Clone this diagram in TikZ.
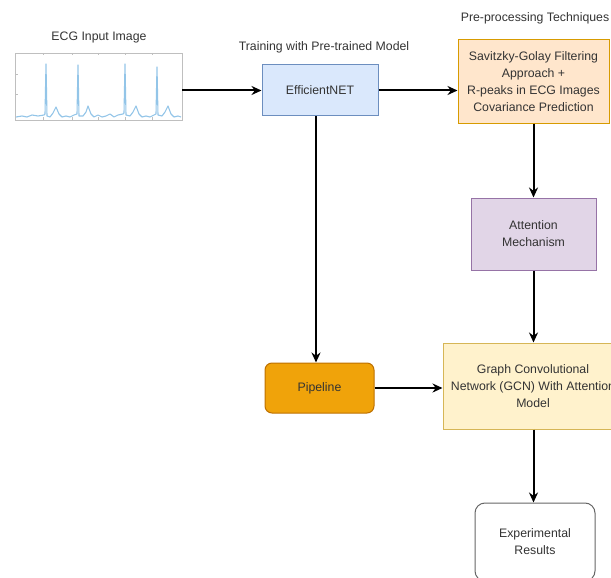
\documentclass[tikz,border=0pt]{standalone}
\usepackage{fontspec}
\setmainfont{Liberation Sans}
\usetikzlibrary{arrows.meta}
\definecolor{txt}{HTML}{333333}
\definecolor{effFill}{HTML}{DAE8FC}
\definecolor{effLine}{HTML}{6C8EBF}
\definecolor{preFill}{HTML}{FFE6CC}
\definecolor{preLine}{HTML}{D79B00}
\definecolor{attFill}{HTML}{E1D5E7}
\definecolor{attLine}{HTML}{9673A6}
\definecolor{gcnFill}{HTML}{FFF2CC}
\definecolor{gcnLine}{HTML}{D6B656}
\definecolor{pipeFill}{HTML}{F0A30A}
\definecolor{pipeLine}{HTML}{BD7000}
\definecolor{ecgTrace}{HTML}{93C5E8}
\begin{document}
\begin{tikzpicture}[x=1pt, y=-1pt,
			font=\fontsize{12.3}{17}\selectfont,
			box/.style={draw, line width=1pt, text=txt, align=center, inner sep=2pt},
			title/.style={text=txt, inner sep=1pt},
			flow/.style={line width=2pt, -{Stealth[length=10pt, width=9pt]}}]
			\useasboundingbox (0,0) rectangle (611,578);
			
			% input image
			\node[title] (ECGt) at (99,37) {ECG Input Image};
			\node[draw=gray!50, line width=0.6pt, minimum width=167pt, minimum height=67pt, inner sep=0pt] (ECG) at (98.5,86.5) {};
			\foreach \x in {43,72,98,125,152}{
			  \draw[gray!50, line width=0.4pt] (\x,53) -- (\x,55.5);
			  \draw[gray!50, line width=0.4pt] (\x,120) -- (\x,117.5);
			}
			\foreach \y in {74,94}{
			  \draw[gray!50, line width=0.4pt] (15,\y) -- (17.5,\y);
			}
			\draw[ecgTrace, line width=1.1pt, line join=round] plot coordinates {
			  (16,117) (22,116) (27,117) (32,115) (38,116) (44,115) (45,114) (46,64) (47,116) (50,117) (53,113) (56,107) (59,114) (62,117)
			  (66,116) (70,117) (74,115) (77,114) (78,65) (79,116) (83,116) (86,112) (88,106) (91,114) (94,117) (98,115) (102,117)
			  (106,116) (110,114) (114,117) (118,115) (123,114) (124,113) (125,64) (126,115) (130,116) (133,112) (136,106) (139,114)
			  (142,117) (146,116) (150,117) (154,115) (156,114) (157,67) (158,115) (162,116) (165,112) (168,106) (171,114) (174,117)
			  (178,116) (181,117)};
			
			% model
			\node[title] (EFFt) at (324,47) {Training with Pre-trained Model};
			\node[box, draw=effLine, fill=effFill, minimum width=116pt, minimum height=51pt] (EFF) at (320,90.5) {EfficientNET};
			
			\node[title] (PREt) at (535,18) {Pre-processing Techniques};
			\node[box, draw=preLine, fill=preFill, minimum width=151pt, minimum height=83pt] (PRE) at (533.5,81.5)
			  {Savitzky-Golay Filtering\\Approach +\\R-peaks in ECG Images\\Covariance Prediction};
			\node[box, draw=attLine, fill=attFill, minimum width=125pt, minimum height=72pt] (ATT) at (533.5,234) {Attention\\Mechanism};
			\node[box, draw=gcnLine, fill=gcnFill, minimum width=180pt, minimum height=86pt] (GCN) at (533,386)
			  {Graph Convolutional\\Network (GCN) With Attention\\Model};
			\node[box, draw=pipeLine, fill=pipeFill, rounded corners=7pt, minimum width=109pt, minimum height=50pt] (PIPE) at (319.5,388) {Pipeline};
			\node[box, draw=gray!80!black, rounded corners=10pt, minimum width=120pt, minimum height=78pt] (RES) at (535,542) {Experimental\\Results};
			
			% connectors
			\draw[flow] (ECG.east |- EFF.west) -- (EFF.west);
			\draw[flow] (EFF.east) -- (EFF.east -| PRE.west);
			\draw[flow] (PRE.south) -- (PRE.south |- ATT.north);
			\draw[flow] (ATT.south) -- (ATT.south |- GCN.north);
			\draw[flow] (EFF.south -| 316,0) -- (PIPE.north -| 316,0);
			\draw[flow] (PIPE.east) -- (PIPE.east -| GCN.west);
			\draw[flow] (GCN.south -| ATT.south) -- (RES.north -| ATT.south);
		\end{tikzpicture}
\end{document}
